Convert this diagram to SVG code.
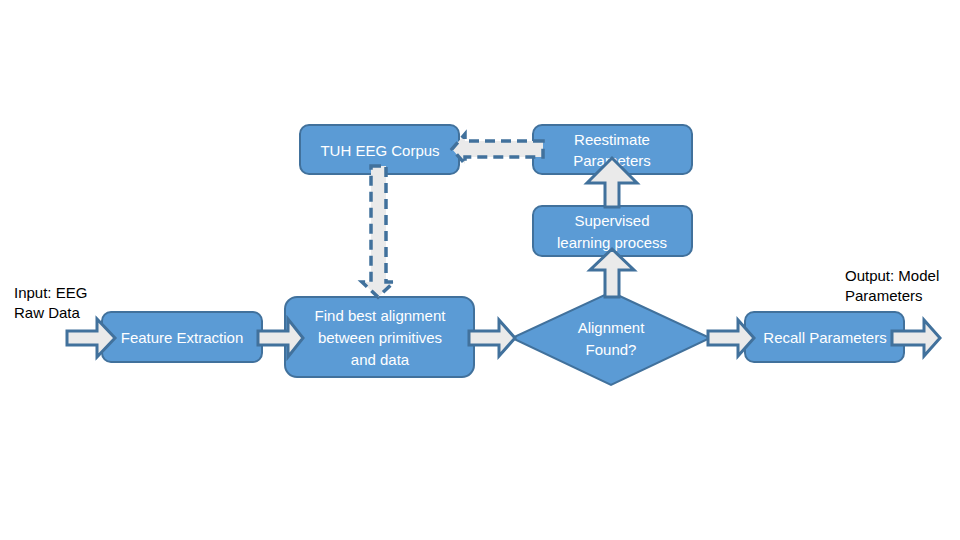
<svg xmlns="http://www.w3.org/2000/svg" width="960" height="540" viewBox="0 0 960 540">
<style>
.box{fill:#5b9bd5;stroke:#41719c;stroke-width:2}
.t{font-family:"Liberation Sans",Arial,sans-serif;font-size:15px;fill:#ffffff;text-anchor:middle}
.lb{font-family:"Liberation Sans",Arial,sans-serif;font-size:15px;fill:#000000}
.arr{fill:#eaeaea;stroke:#41719c;stroke-width:3;stroke-linejoin:miter}
.dash{fill:#eaeaea;stroke:#41719c;stroke-width:3.5;stroke-dasharray:10,6}
</style>
<rect width="960" height="540" fill="#ffffff"/>
<g id="tuh"><rect class="box" x="300" y="125" width="159" height="49" rx="9"/><text class="t" x="380" y="156">TUH EEG Corpus</text></g>
<g id="reestimate"><rect class="box" x="533" y="125" width="159" height="49" rx="9"/><text class="t" x="612" y="145">Reestimate</text><text class="t" x="612" y="166">Parameters</text></g>
<g id="supervised"><rect class="box" x="533" y="206" width="159" height="50" rx="9"/><text class="t" x="612" y="226">Supervised</text><text class="t" x="612" y="248">learning process</text></g>
<g id="feature"><rect class="box" x="102" y="312" width="160" height="50" rx="9"/><text class="t" x="182" y="343">Feature Extraction</text></g>
<g id="findbest"><rect class="box" x="285" y="297" width="189" height="80" rx="12"/><text class="t" x="380" y="321">Find best alignment</text><text class="t" x="380" y="343">between primitives</text><text class="t" x="380" y="365">and data</text></g>
<g id="decision"><polygon class="box" points="611,292 710,338 611,385 512,338"/><text class="t" x="611" y="333">Alignment</text><text class="t" x="611" y="355">Found?</text></g>
<g id="recall"><rect class="box" x="745" y="312" width="159" height="50" rx="9"/><text class="t" x="825" y="343">Recall Parameters</text></g>
<g id="labels">
<text class="lb" x="14" y="298">Input: EEG</text><text class="lb" x="14" y="318">Raw Data</text>
<text class="lb" x="845" y="281">Output: Model</text><text class="lb" x="845" y="301">Parameters</text>
</g>
<g id="connectors">
<polygon class="arr" points="67,331 97,331 97,319 115,338 97,357 97,345 67,345"/>
<polygon class="arr" points="258,331 288,331 288,319 303,338 288,357 288,345 258,345"/>
<polygon class="arr" points="469,331 499,331 499,320 515,338 499,356 499,345 469,345"/>
<polygon class="arr" points="708,331 738,331 738,320 754,338 738,356 738,345 708,345"/>
<polygon class="arr" points="892,331 924,331 924,320 940,338 924,356 924,345 892,345"/>
<polygon class="arr" points="605,207 605,183 587,183 612,158 637,183 619,183 619,207"/>
<polygon class="arr" points="605,297 605,270 590,270 612,249 634,270 619,270 619,297"/>
<polygon class="dash" points="543,141 465,141 465,134 452,149 465,164 465,157 543,157"/>
<polygon class="dash" points="371,166 386,166 386,282 394,282 378,297 362,282 371,282"/>
</g>
</svg>
